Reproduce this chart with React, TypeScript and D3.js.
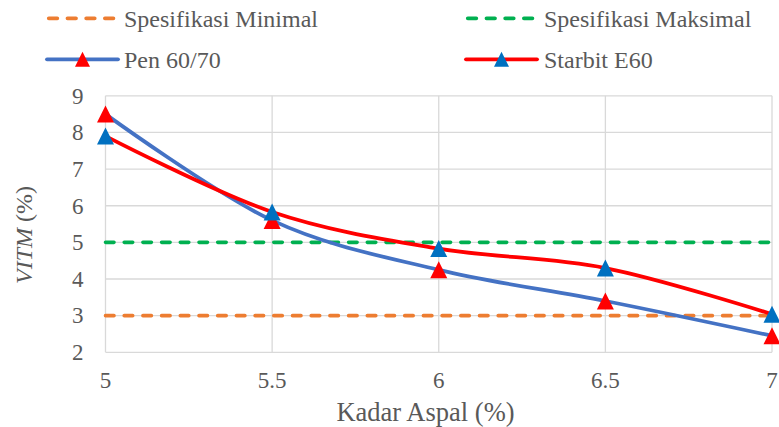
import React from "react";
import * as d3 from "d3";

const xTicks = [5, 5.5, 6, 6.5, 7];
const yTicks = [2, 3, 4, 5, 6, 7, 8, 9];
const kadarAspal = [5, 5.5, 6, 6.5, 7];
const pen6070 = [8.5, 5.6, 4.25, 3.4, 2.45];
const starbitE60 = [7.9, 5.83, 4.83, 4.3, 3.04];
const specMin = 3;
const specMax = 5;

const W = 779;
const H = 427;
const FONT = "Liberation Serif";
const TEXT = "#595959";
const GRID = "#D9D9D9";

const ORANGE = "#ED7D31";
const GREEN = "#00B050";
const BLUE_LINE = "#4472C4";
const RED_LINE = "#FF0000";
const BLUE_MARK = "#0070C0";
const RED_MARK = "#FF0000";

const x = d3.scaleLinear().domain([5, 7]).range([105.5, 772]);
const y = d3.scaleLinear().domain([2, 9]).range([352.3, 95.8]);

const line = d3
  .line<number>()
  .x((_, i) => x(kadarAspal[i]))
  .y((d) => y(d))
  .curve(d3.curveCardinal.tension(0));

function tri(cx: number, cy: number, s: number) {
  const h = s / 2;
  return `M${cx},${cy - h}L${cx + h},${cy + h}L${cx - h},${cy + h}Z`;
}

export default function App() {
  const legendRows = [
    { y: 18.3, items: [
      { x0: 47, x1: 118, tx: 124, label: "Spesifikasi Minimal", color: ORANGE, dashed: true, mark: "" },
      { x0: 466, x1: 537, tx: 544, label: "Spesifikasi Maksimal", color: GREEN, dashed: true, mark: "" },
    ] },
    { y: 59.3, items: [
      { x0: 47, x1: 118, tx: 124, label: "Pen 60/70", color: BLUE_LINE, dashed: false, mark: RED_MARK },
      { x0: 466, x1: 537, tx: 544, label: "Starbit E60", color: RED_LINE, dashed: false, mark: BLUE_MARK },
    ] },
  ];

  return (
    <svg width={W} height={H} style={{ position: "absolute", left: 0, top: 0, background: "#fff" }}>
      <style>{`.lbl { font-family: 'Liberation Serif', 'Times New Roman'; fill: ${TEXT}; }`}</style>
      <rect width={W} height={H} fill="#fff" />
      {/* gridlines */}
      {yTicks.map((t) => (
        <line key={"gy" + t} x1={x(5)} x2={x(7)} y1={y(t)} y2={y(t)} stroke={GRID} strokeWidth={1.3} />
      ))}
      {xTicks.map((t) => (
        <line key={"gx" + t} x1={x(t)} x2={x(t)} y1={y(9)} y2={y(2)} stroke={GRID} strokeWidth={1.3} />
      ))}

      {/* tick labels */}
      {yTicks.map((t) => (
        <text key={"ty" + t} className="lbl" fontFamily={FONT} fill={TEXT} x={83.5} y={y(t)} dy="0.34em"
          textAnchor="end" fontSize={23}>
          {t}
        </text>
      ))}
      {xTicks.map((t) => (
        <text key={"tx" + t} className="lbl" fontFamily={FONT} fill={TEXT} x={x(t)} y={388}
          textAnchor="middle" fontSize={23}>
          {t}
        </text>
      ))}

      {/* axis titles */}
      <text className="lbl" fontFamily={FONT} fill={TEXT} x={425.5} y={421} textAnchor="middle" fontSize={26.5}>
        Kadar Aspal (%)
      </text>
      <text className="lbl" fontFamily={FONT} fill={TEXT} transform="translate(32,235) rotate(-90)"
        textAnchor="middle" fontSize={24}>
        <tspan fontStyle="italic">VITM</tspan> (%)
      </text>

      {/* specification limits */}
      <line x1={x(5)} x2={x(7)} y1={y(specMin)} y2={y(specMin)} stroke={ORANGE} strokeWidth={3.6}
        strokeDasharray="8.5 10.2" strokeLinecap="round" />
      <line x1={x(5)} x2={x(7)} y1={y(specMax)} y2={y(specMax)} stroke={GREEN} strokeWidth={3.6}
        strokeDasharray="8.5 10.2" strokeLinecap="round" />

      {/* series */}
      <path d={line(pen6070) || ""} fill="none" stroke={BLUE_LINE} strokeWidth={3.8} strokeLinecap="round" />
      <path d={line(starbitE60) || ""} fill="none" stroke={RED_LINE} strokeWidth={3.8} strokeLinecap="round" />
      {pen6070.map((v, i) => (
        <path key={"pm" + i} d={tri(x(kadarAspal[i]), y(v), 17)} fill={RED_MARK} />
      ))}
      {starbitE60.map((v, i) => (
        <path key={"sm" + i} d={tri(x(kadarAspal[i]), y(v), 17)} fill={BLUE_MARK} />
      ))}

      {/* legend */}
      {legendRows.map((row, ri) =>
        row.items.map((it, ii) => (
          <g key={"lg" + ri + ii}>
            <line
              x1={it.x0 + (it.dashed ? 1.8 : 0)}
              x2={it.x1}
              y1={row.y}
              y2={row.y}
              stroke={it.color}
              strokeWidth={3.8}
              strokeLinecap="round"
              strokeDasharray={it.dashed ? "8.5 10.2" : undefined}
            />
            {it.mark && <path d={tri((it.x0 + it.x1) / 2, row.y, 15)} fill={it.mark} />}
            <text className="lbl" fontFamily={FONT} fill={TEXT} x={it.tx} y={row.y + 8.3} fontSize={24}>
              {it.label}
            </text>
          </g>
        ))
      )}
    </svg>
  );
}
